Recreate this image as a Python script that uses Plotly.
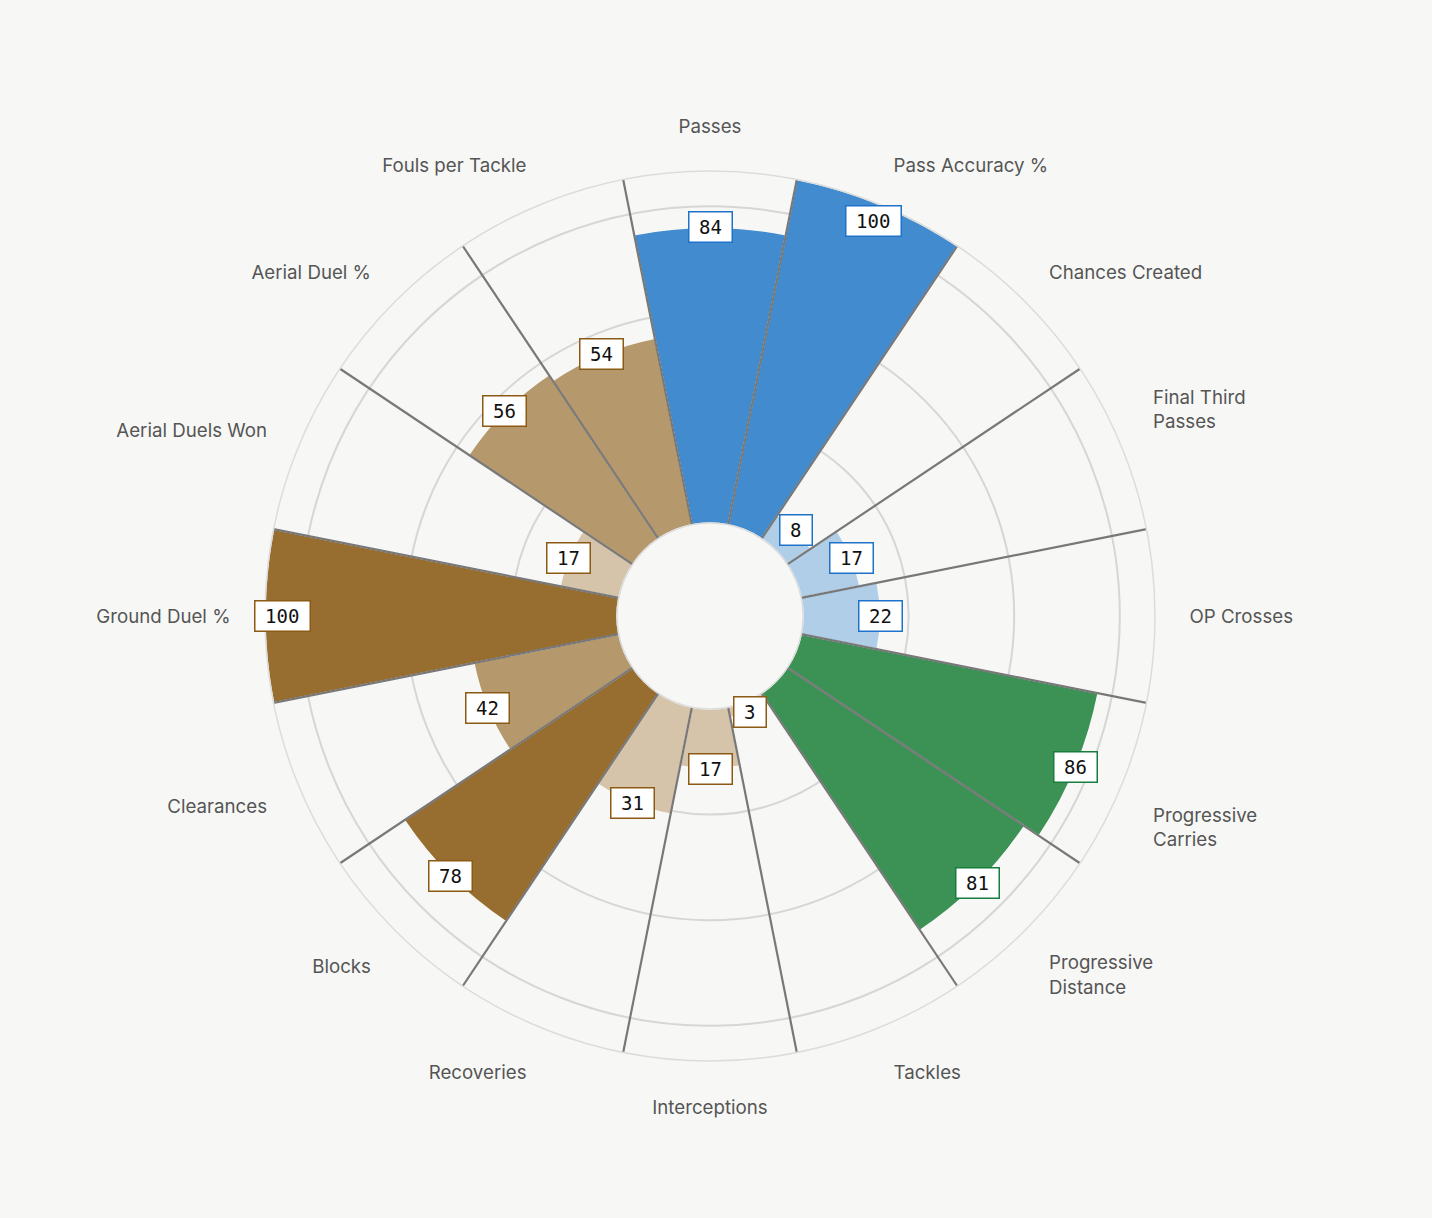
import math
import plotly.graph_objects as go

# pizza chart: percentile ranks per metric
categories = [
    "Passes", "Pass Accuracy %", "Chances Created", "Final Third Passes",
    "OP Crosses", "Progressive Carries", "Progressive Distance", "Tackles",
    "Interceptions", "Recoveries", "Blocks", "Clearances",
    "Ground Duel %", "Aerial Duels Won", "Aerial Duel %", "Fouls per Tackle",
]
# blank lines nudge two of the two-line labels away from the horizontal
tick_labels = [
    "Passes", "Pass Accuracy %", "Chances Created", "Final Third<br>Passes<br> ",
    "OP Crosses", " <br>Progressive<br>Carries", "Progressive<br>Distance", "Tackles",
    "Interceptions", "Recoveries", "Blocks", "Clearances",
    "Ground Duel %", "Aerial Duels Won", "Aerial Duel %", "Fouls per Tackle",
]
values = [84, 100, 8, 17, 22, 86, 81, 3, 17, 31, 78, 42, 100, 17, 56, 54]
groups = ["passing"] * 5 + ["progression"] * 2 + ["defending"] * 9

palette = {
    "passing": {"high": "#418BCE", "mid": "#79AADB", "low": "#B1CEE9", "edge": "#1E73C8"},
    "progression": {"high": "#3C9155", "mid": "#78B28A", "low": "#B3D5BD", "edge": "#167D3C"},
    "defending": {"high": "#986E30", "mid": "#B5986B", "low": "#D5C3AA", "edge": "#8C5A14"},
}


def tier(v):
    if v >= 70:
        return "high"
    if v >= 40:
        return "mid"
    return "low"


W, H = 1432, 1218
BG = "#F7F8F6"
CX, CY, R = 710, 616, 445  # centre + outer radius in px
HOLE = 0.209

n = len(categories)
step = 360 / n
theta = [i * step for i in range(n)]
bar_colors = [palette[g][tier(v)] for g, v in zip(groups, values)]

dom_x = [(CX - R) / W, (CX + R) / W]
dom_y = [1 - (CY + R) / H, 1 - (CY - R) / H]

fig = go.Figure()
fig.add_trace(go.Barpolar(
    r=values, theta=theta, width=[step] * n,
    marker=dict(color=bar_colors, line=dict(color=BG, width=1.5)),
    hoverinfo="skip", showlegend=False,
))

# dividers between slices
for t in theta:
    b = t + step / 2
    fig.add_trace(go.Scatterpolar(
        r=[0, 100], theta=[b, b], mode="lines",
        line=dict(color="#787878", width=2.2),
        hoverinfo="skip", showlegend=False,
    ))

# value boxes
for t, v, g in zip(theta, values, groups):
    lv = min(v, 95)
    rp = R * (HOLE + (1 - HOLE) * lv / 100)
    a = math.radians(t)
    txt = str(v)
    fig.add_annotation(
        x=(CX + rp * math.sin(a)) / W, y=1 - (CY - rp * math.cos(a)) / H,
        xref="paper", yref="paper", text=txt, showarrow=False,
        font=dict(family="DejaVu Sans Mono", size=19, color="#111111"),
        bgcolor="white", bordercolor=palette[g]["edge"], borderwidth=1.5, borderpad=1,
        width=17 + 11.5 * len(txt), height=27,
        xanchor="center", yanchor="middle",
    )

fig.update_layout(
    width=W, height=H,
    paper_bgcolor=BG, plot_bgcolor=BG,
    margin=dict(l=0, r=0, t=0, b=0),
    showlegend=False,
    polar=dict(
        domain=dict(x=dom_x, y=dom_y),
        hole=HOLE,
        bgcolor=BG,
        radialaxis=dict(
            range=[0, 100], tickmode="array", tickvals=[0, 30, 60, 90],
            showticklabels=False, ticks="", showline=False,
            gridcolor="rgba(185,185,185,0.55)", gridwidth=1.5,
            layer="above traces",
        ),
        angularaxis=dict(
            type="linear", thetaunit="degrees", rotation=90, direction="clockwise",
            tickmode="array", tickvals=theta, ticktext=tick_labels,
            showgrid=False, showline=True, linecolor="#DCDCDC", linewidth=1.5,
            ticks="outside", ticklen=30, tickcolor="rgba(0,0,0,0)",
            tickfont=dict(family="Inter", size=18.7, color="#555555"),
        ),
    ),
)

fig.write_html("out.html", config={"displayModeBar": False},
               post_script="document.body.style.margin='0';")
